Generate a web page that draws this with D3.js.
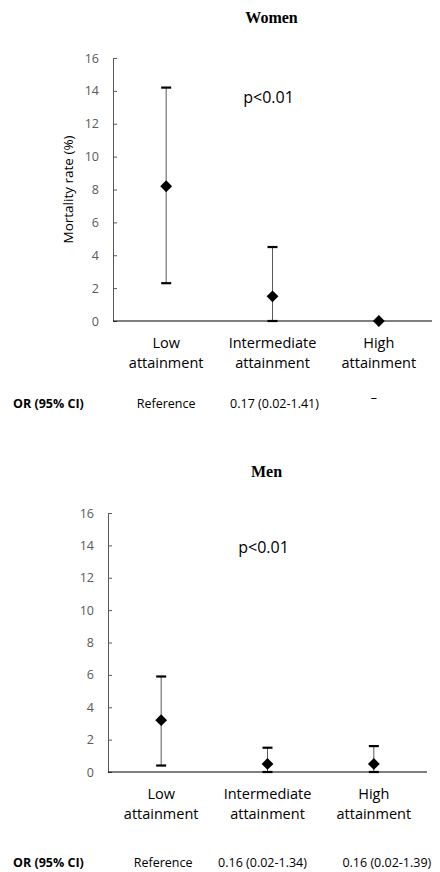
<!DOCTYPE html>
<html>
<head>
<meta charset="UTF-8" />
<style>
    body { margin: 0; background: #fff; }
    .title { font: bold 16px "Liberation Serif", serif; text-anchor: middle; }
    .tick text { font: 12.5px "Open Sans", sans-serif; fill: #595959; }
    .cat { font: 14.5px "Open Sans", sans-serif; fill: #000; text-anchor: middle; }
    .ptext { font: 16px "Open Sans", sans-serif; }
    .ylab { font: 13.5px "Open Sans", sans-serif; text-anchor: middle; }
    .or { font: 12.5px "Open Sans", sans-serif; text-anchor: middle; }
    .orhead { font: bold 12.5px "Open Sans", sans-serif; }
</style>
<script src="https://d3js.org/d3.v7.min.js"></script>
</head>
<body>
<svg width="440" height="872"></svg>
<script>
    // data
    var categories = ["Low attainment", "Intermediate attainment", "High attainment"];
    var yTicks = [0, 2, 4, 6, 8, 10, 12, 14, 16];

    var womenRate = [8.2, 1.5, 0];
    var womenLow  = [2.3, 0, null];
    var womenHigh = [14.2, 4.5, null];
    var womenOR   = ["Reference", "0.17 (0.02-1.41)", "\u2013"];

    var menRate = [3.2, 0.5, 0.5];
    var menLow  = [0.4, 0, 0];
    var menHigh = [5.9, 1.5, 1.6];
    var menOR   = ["Reference", "0.16 (0.02-1.34)", "0.16 (0.02-1.39)"];

    var svg = d3.select("svg");

    var panels = [
        { title: "Women", rate: womenRate, lo: womenLow, hi: womenHigh, or: womenOR,
          left: 113, right: 432, top: 58, bottom: 321, titleY: 23, pY: 103,
          ylab: "Mortality rate (%)", orY: 408, orOff: [0, 2, -5] },
        { title: "Men", rate: menRate, lo: menLow, hi: menHigh, or: menOR,
          left: 108, right: 427, top: 513, bottom: 772, titleY: 477, pY: 553,
          ylab: null, orY: 867, orOff: [2, -5, 13] }
    ];

    panels.forEach(function(p) {
        var g = svg.append("g");

        var x = d3.scaleBand().domain(categories).range([p.left, p.right]);
        var y = d3.scaleLinear().domain([0, 16]).range([p.bottom, p.top]);
        var cx = function(i) { return x(categories[i]) + x.bandwidth() / 2; };

        g.append("text").attr("class", "title")
            .attr("x", (p.left + p.right) / 2 - 1).attr("y", p.titleY)
            .text(p.title);

        var yAxis = g.append("g")
            .attr("transform", "translate(" + p.left + ",0)")
            .call(d3.axisLeft(y).tickValues(yTicks).tickSize(-4).tickPadding(14));
        yAxis.selectAll("path, line").attr("stroke", "#595959");

        // x axis line
        g.append("line")
            .attr("x1", p.left).attr("x2", p.right)
            .attr("y1", y(0)).attr("y2", y(0))
            .attr("stroke", "#000").attr("stroke-width", 1.2);

        // category labels (two lines)
        categories.forEach(function(c, i) {
            var words = c.split(" ");
            var t = g.append("text").attr("class", "cat")
                .attr("x", cx(i)).attr("y", y(0) + 27);
            words.forEach(function(w, k) {
                t.append("tspan").attr("x", cx(i)).attr("dy", k ? 20 : 0).text(w);
            });
        });

        if (p.ylab) {
            g.append("text").attr("class", "ylab")
                .attr("transform", "translate(" + (p.left - 40) + "," + ((p.top + p.bottom) / 2) + ") rotate(-90)")
                .text(p.ylab);
        }

        g.append("text").attr("class", "ptext")
            .attr("x", (p.left + p.right) / 2 - 4).attr("y", p.pY)
            .attr("text-anchor", "middle")
            .text("p<0.01");

        // error bars
        p.rate.forEach(function(v, i) {
            if (p.lo[i] == null) return;
            g.append("line")
                .attr("x1", cx(i)).attr("x2", cx(i))
                .attr("y1", y(p.lo[i])).attr("y2", y(p.hi[i]))
                .attr("stroke", "#595959").attr("stroke-width", 1);
            [p.lo[i], p.hi[i]].forEach(function(e) {
                g.append("line")
                    .attr("x1", cx(i) - 5).attr("x2", cx(i) + 5)
                    .attr("y1", y(e)).attr("y2", y(e))
                    .attr("stroke", "#000").attr("stroke-width", 2.2);
            });
        });

        // diamond markers
        g.selectAll(".pt").data(p.rate).enter().append("path")
            .attr("class", "pt")
            .attr("d", d3.symbol(d3.symbolSquare, 70))
            .attr("transform", function(d, i) {
                return "translate(" + cx(i) + "," + y(d) + ") rotate(45)";
            })
            .attr("fill", "#000");

        // OR row
        g.append("text").attr("class", "orhead")
            .attr("x", 13).attr("y", p.orY).text("OR (95% CI)");
        p.or.forEach(function(s, i) {
            g.append("text").attr("class", "or")
                .attr("x", cx(i) + p.orOff[i])
                .attr("y", s === "\u2013" ? p.orY - 6 : p.orY)
                .text(s);
        });
    });
</script>
</body>
</html>
